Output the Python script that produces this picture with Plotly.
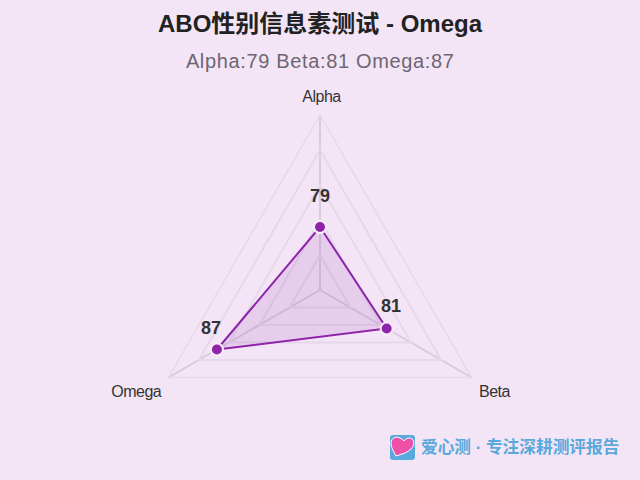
import math
import plotly.graph_objects as go

categories = ["Alpha", "Beta", "Omega"]
values = [79, 81, 87]
radial_min, radial_max = 70, 95
radial_ticks = [70, 75, 80, 85, 90, 95]
title = "ABO性别信息素测试 - Omega"
subtitle = "Alpha:79 Beta:81 Omega:87"
footer = "爱心测 · 专注深耕测评报告"

W, H = 640, 480
CX, CY, R = 320, 290, 175
PURPLE = "#8E24AA"
BG = "#F3E5F5"
SANS = "Liberation Sans, Arial, Noto Sans CJK SC, sans-serif"

fig = go.Figure()
fig.add_trace(go.Scatterpolar(
    r=values + values[:1],
    theta=categories + categories[:1],
    mode="lines+markers",
    line=dict(color=PURPLE, width=2),
    marker=dict(size=12, color=PURPLE, line=dict(color="#F8EEFA", width=2)),
    fill="toself",
    fillcolor="rgba(142,36,170,0.12)",
    hoverinfo="skip",
))


def to_px(i, v):
    a = math.radians(120 * i)
    rr = R * (v - radial_min) / (radial_max - radial_min)
    return CX + rr * math.sin(a), CY - rr * math.cos(a)


label_shift = [(0, 31), (4, 23), (-6, 22)]
annotations = []
for i, v in enumerate(values):
    px, py = to_px(i, v)
    annotations.append(dict(
        x=px / W, y=1 - py / H, xref="paper", yref="paper", text=str(v),
        showarrow=False, xshift=label_shift[i][0], yshift=label_shift[i][1],
        xanchor="center", yanchor="middle",
        font=dict(family=SANS, size=18, color="#333333", weight="bold"),
    ))

cat_shift = [(1, 19), (22.5, -14), (-32, -13.5)]
for i, c in enumerate(categories):
    px, py = to_px(i, radial_max)
    annotations.append(dict(
        x=px / W, y=1 - py / H, xref="paper", yref="paper", text=c,
        showarrow=False, xshift=cat_shift[i][0], yshift=cat_shift[i][1],
        xanchor="center", yanchor="middle",
        font=dict(family=SANS, size=16, color="#333333"),
    ))

annotations.append(dict(
    x=320 / W, y=1 - 61 / H, xref="paper", yref="paper", text=subtitle,
    showarrow=False, xanchor="center", yanchor="middle",
    font=dict(family=SANS, size=20, color="#6E6672"),
))
annotations.append(dict(
    x=419 / W, y=1 - 447 / H, xref="paper", yref="paper", text=footer,
    showarrow=False, xanchor="left", yanchor="middle",
    font=dict(family=SANS, size=16.7, color="#5AA9DD", weight="bold"),
))

heart = ("M 396 456 C 394 452 391 448 391 443 C 391 438 396 436 400 438 "
         "C 402 439 403 440 404 441 C 406 438 410 437 412 439 "
         "C 415 441 414 446 411 449 C 408 452 403 454 399 455 Z")


def px_path(p):
    out = []
    toks = p.split()
    i = 0
    while i < len(toks):
        t = toks[i]
        if t.isalpha():
            out.append(t)
            i += 1
        else:
            out.append(f"{float(t) / W:.5f},{1 - float(toks[i + 1]) / H:.5f}")
            i += 2
    return " ".join(out)


shapes = [
    dict(type="path", xref="paper", yref="paper", line=dict(width=0), fillcolor="#5AA9DD",
         path=px_path("M 393 435 L 412 435 C 414 435 415 436 415 438 L 415 457 C 415 459 414 460 412 460 "
                      "L 393 460 C 391 460 390 459 390 457 L 390 438 C 390 436 391 435 393 435 Z")),
    dict(type="path", xref="paper", yref="paper", line=dict(width=1, color="#FFFFFF"), fillcolor="#EE4FA8",
         path=px_path(heart)),
]

fig.update_layout(
    width=W, height=H, autosize=False,
    margin=dict(l=0, r=0, t=0, b=0),
    paper_bgcolor=BG, plot_bgcolor=BG,
    showlegend=False,
    title=dict(text=title, x=0.5, xanchor="center", y=1 - 24 / H, yanchor="middle",
               font=dict(family=SANS, size=24, color="#222222", weight="bold")),
    annotations=annotations,
    shapes=shapes,
    polar=dict(
        bgcolor="rgba(0,0,0,0)",
        gridshape="linear",
        domain=dict(x=[(CX - R) / W, (CX + R) / W], y=[1 - (CY + R) / H, 1 - (CY - R) / H]),
        radialaxis=dict(range=[radial_min, radial_max], tickvals=radial_ticks, showticklabels=False,
                        ticks="", showline=False, gridcolor="#E5D8EA", gridwidth=1.5),
        angularaxis=dict(categoryorder="array", categoryarray=categories, direction="clockwise",
                         rotation=90, ticks="", showline=True, linecolor="#E5D8EA", linewidth=1.5,
                         gridcolor="#D8CBDD", gridwidth=1.5, showticklabels=False),
    ),
)

post = """
document.body.style.margin = '0';
document.documentElement.style.background = '#F3E5F5';
document.querySelectorAll('.annotation-text').forEach(function (t) {
  var s = t.textContent;
  if (s.indexOf('Alpha:') === 0) t.style.letterSpacing = '0.65px';
  if (s === 'Alpha' || s === 'Beta' || s === 'Omega') t.style.letterSpacing = '-0.5px';
});
"""
fig.write_html("out.html", post_script=post, config=dict(displayModeBar=False))
